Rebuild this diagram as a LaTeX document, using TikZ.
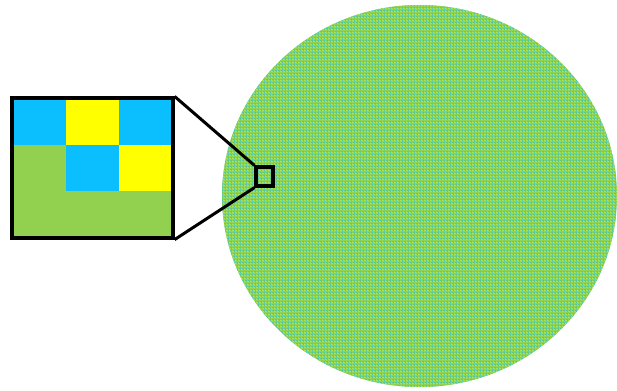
\documentclass[tikz,border=0pt]{standalone}
\usetikzlibrary{patterns}
\definecolor{skyb}{HTML}{0BBFFF}
\definecolor{yel}{HTML}{FFFF00}
\definecolor{grn}{HTML}{92D050}
% 3x3 tile, same as the magnified box
\pgfdeclarepatterninherentlycolored{pixels}{\pgfpointorigin}{\pgfpoint{3pt}{3pt}}{\pgfpoint{3pt}{3pt}}{
   \pgfsetfillcolor{grn}\pgfpathrectangle{\pgfpointorigin}{\pgfpoint{3pt}{3pt}}\pgfusepath{fill}
   \pgfsetfillcolor{skyb}
   \pgfpathrectangle{\pgfpoint{0pt}{2pt}}{\pgfpoint{1pt}{1pt}}
   \pgfpathrectangle{\pgfpoint{2pt}{2pt}}{\pgfpoint{1pt}{1pt}}
   \pgfpathrectangle{\pgfpoint{1pt}{1pt}}{\pgfpoint{1pt}{1pt}}\pgfusepath{fill}
   \pgfsetfillcolor{yel}
   \pgfpathrectangle{\pgfpoint{1pt}{2pt}}{\pgfpoint{1pt}{1pt}}
   \pgfpathrectangle{\pgfpoint{2pt}{1pt}}{\pgfpoint{1pt}{1pt}}\pgfusepath{fill}
}
\tikzset{
   frame/.style={draw=black,line width=3.2pt},
   zoomline/.style={black,line width=3pt},
   cell/.style={draw=none,inner sep=0pt,minimum width=53.67pt,minimum height=46.67pt}
}
\begin{document}
\begin{tikzpicture}[x=1pt,y=-1pt]
   \useasboundingbox (0,0) rectangle (617,390);
   % the picture
   \fill [fill=grn!70!skyb] (419.5,196) ellipse [x radius=197.5,y radius=191];
   \fill [pattern=pixels] (419.5,196) ellipse [x radius=197.5,y radius=191];
   % magnified part
   \node [cell,fill=skyb] (c11) at (38.83,121.33) {};
   \node [cell,fill=yel]  (c12) at (92.5,121.33) {};
   \node [cell,fill=skyb] (c13) at (146.17,121.33) {};
   \node [cell,fill=grn]  (c21) at (38.83,168) {};
   \node [cell,fill=skyb] (c22) at (92.5,168) {};
   \node [cell,fill=yel]  (c23) at (146.17,168) {};
   \node [cell,fill=grn]  (c31) at (38.83,214.67) {};
   \node [cell,fill=grn]  (c32) at (92.5,214.67) {};
   \node [cell,fill=grn]  (c33) at (146.17,214.67) {};
   \node [frame,inner sep=0pt,minimum width=161pt,minimum height=140pt] (big) at (92.5,168) {};
   \node [frame,inner sep=0pt,minimum width=17pt,minimum height=19pt] (small) at (264.5,176.5) {};
   \draw [zoomline] (small.north west) -- (big.north east);
   \draw [zoomline] (small.south west) -- (big.south east);
\end{tikzpicture}
\end{document}
